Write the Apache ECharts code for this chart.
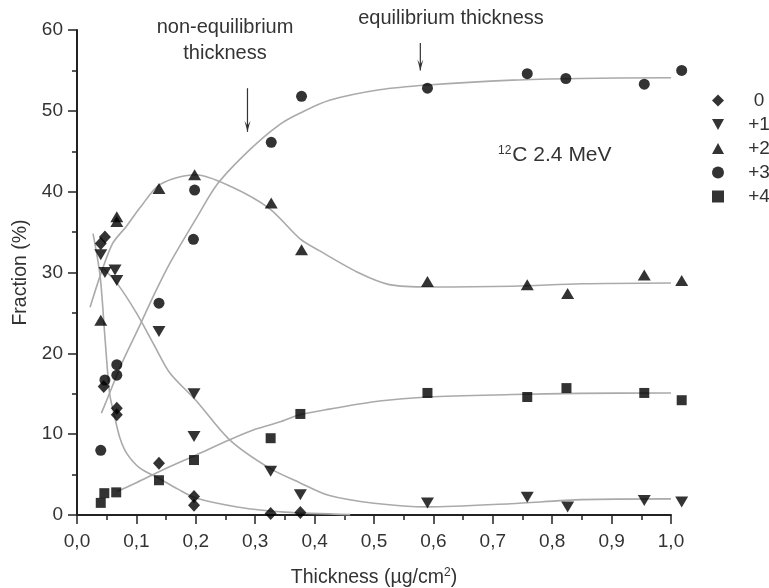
<!DOCTYPE html>
<html>
<head>
<meta charset="utf-8">
<title>Charge state fractions</title>
<script src="https://cdn.jsdelivr.net/npm/echarts@6/dist/echarts.min.js"></script>
<style>
  html, body { margin: 0; padding: 0; background: #fff; }
  #chart { width: 769px; height: 588px; }
</style>
</head>
<body>
<div id="chart"></div>
<script>
// Measured charge-state fractions (%) versus foil thickness (µg/cm²)
const state0 = [[0.040, 33.6], [0.047, 34.4], [0.045, 15.9], [0.067, 13.2], [0.067, 12.4],
  [0.138, 6.4], [0.197, 2.3], [0.197, 1.2], [0.326, 0.2], [0.376, 0.3]];
const state1 = [[0.040, 32.2], [0.047, 30.0], [0.064, 30.3], [0.067, 29.0], [0.138, 22.7],
  [0.197, 15.0], [0.197, 9.7], [0.326, 5.4], [0.376, 2.5], [0.590, 1.5], [0.758, 2.2],
  [0.826, 1.0], [0.955, 1.8], [1.018, 1.6]];
const state2 = [[0.040, 24.1], [0.067, 36.9], [0.067, 36.3], [0.138, 40.4], [0.198, 42.1],
  [0.327, 38.6], [0.378, 32.8], [0.590, 28.9], [0.758, 28.5], [0.826, 27.4], [0.955, 29.7],
  [1.018, 29.0]];
const state3 = [[0.040, 8.0], [0.047, 16.7], [0.067, 18.6], [0.067, 17.3], [0.138, 26.2],
  [0.196, 34.1], [0.198, 40.2], [0.327, 46.1], [0.378, 51.8], [0.590, 52.8], [0.758, 54.6],
  [0.823, 54.0], [0.955, 53.3], [1.018, 55.0]];
const state4 = [[0.040, 1.5], [0.046, 2.7], [0.066, 2.8], [0.138, 4.3], [0.197, 6.8],
  [0.326, 9.5], [0.376, 12.5], [0.590, 15.1], [0.758, 14.6], [0.824, 15.7], [0.955, 15.1],
  [1.018, 14.2]];

// Fitted curves for each charge state
const fit0 = [[0.027, 34.8], [0.039, 29.5], [0.047, 22.0], [0.055, 15.0], [0.062, 12.6],
  [0.072, 9.6], [0.084, 7.6], [0.106, 5.8], [0.136, 4.6], [0.17, 3.2], [0.2, 2.1],
  [0.27, 1.0], [0.35, 0.35], [0.46, 0.05]];
const fit1 = [[0.045, 30.5], [0.069, 28.5], [0.1, 25.0], [0.13, 21.0], [0.156, 17.6],
  [0.2, 14.2], [0.257, 9.3], [0.324, 5.8], [0.375, 4.0], [0.425, 2.4], [0.5, 1.45],
  [0.59, 1.0], [0.73, 1.4], [0.85, 1.9], [1.0, 2.0]];
const fit2 = [[0.022, 25.7], [0.04, 29.8], [0.06, 33.6], [0.083, 35.7], [0.106, 38.0],
  [0.14, 40.9], [0.2, 42.1], [0.26, 40.6], [0.324, 37.9], [0.375, 34.2], [0.408, 32.7],
  [0.476, 29.9], [0.526, 28.5], [0.593, 28.2], [0.733, 28.3], [0.85, 28.6], [1.0, 28.7]];
const fit3 = [[0.041, 12.6], [0.05, 14.2], [0.075, 18.7], [0.106, 23.5], [0.13, 27.3],
  [0.156, 31.1], [0.2, 36.6], [0.237, 41.0], [0.291, 45.2], [0.341, 48.3], [0.375, 49.7],
  [0.425, 51.3], [0.509, 52.6], [0.59, 53.2], [0.733, 53.8], [0.845, 54.0], [1.0, 54.1]];
const fit4 = [[0.067, 2.9], [0.1, 4.0], [0.145, 5.6], [0.2, 7.4], [0.257, 9.3], [0.3, 10.6],
  [0.341, 11.5], [0.375, 12.4], [0.425, 13.1], [0.509, 14.1], [0.59, 14.6], [0.733, 14.9],
  [0.845, 15.05], [1.0, 15.1]];

const stateNames = ['0', '+1', '+2', '+3', '+4'];

// Arrow annotations: x position, top and bottom of the shaft in data units
const arrowX = [0.287, 0.578];
const arrowTop = [52.8, 58.4];
const arrowBottom = [47.4, 55.0];

const FONT = 'Liberation Sans, Arial, sans-serif';
const TEXT = '#333';
const AXIS = '#222';
const FIT = '#aaaaaa';

const downTriangle = 'path://M0,0 L10,0 L5,9 Z';
const upTriangle = 'path://M5,0 L10,9 L0,9 Z';

function scatter(name, data, symbol, size) {
  return {
    name: name, type: 'scatter', data: data, symbol: symbol, symbolSize: size,
    itemStyle: { color: '#000' }, clip: false, z: 5
  };
}
function fitLine(name, data) {
  return {
    name: name, type: 'line', data: data, smooth: 0.3, symbol: 'none', clip: false,
    lineStyle: { color: FIT, width: 1.6 }, z: 2, silent: true
  };
}

const chart = echarts.init(document.getElementById('chart'), null, { renderer: 'canvas' });

chart.setOption({
  animation: false,
  backgroundColor: '#fff',
  grid: { left: 77, right: 98, top: 30, bottom: 73, outerBoundsMode: 'none', containLabel: false },
  xAxis: {
    type: 'value', min: 0, max: 1.0, interval: 0.1,
    name: 'Thickness (\u00b5g/cm{sup|2})',
    nameLocation: 'middle', nameGap: 52,
    nameTextStyle: {
      fontFamily: FONT, fontSize: 19.5, color: TEXT,
      rich: { sup: { fontFamily: FONT, fontSize: 12, color: TEXT, verticalAlign: 'top', padding: [0, 0, 9, 0] } }
    },
    axisLine: { onZero: false, lineStyle: { color: AXIS, width: 2 } },
    axisTick: { show: true, length: 9, lineStyle: { color: AXIS, width: 1.5 } },
    minorTick: { show: true, splitNumber: 2, length: 5, lineStyle: { color: AXIS, width: 1.5 } },
    splitLine: { show: false },
    axisLabel: {
      margin: 17, fontFamily: FONT, fontSize: 19, color: TEXT,
      formatter: v => v.toFixed(1).replace('.', ',')
    }
  },
  yAxis: {
    type: 'value', min: 0, max: 60, interval: 10,
    name: 'Fraction (%)', nameLocation: 'middle', nameGap: 46,
    nameTextStyle: { fontFamily: FONT, fontSize: 19.5, color: TEXT },
    axisLine: { show: true, lineStyle: { color: AXIS, width: 2 } },
    axisTick: { show: true, length: 9, lineStyle: { color: AXIS, width: 1.5 } },
    minorTick: { show: true, splitNumber: 2, length: 5, lineStyle: { color: AXIS, width: 1.5 } },
    splitLine: { show: false },
    axisLabel: { margin: 14, fontFamily: FONT, fontSize: 19, color: TEXT }
  },
  legend: {
    data: stateNames, orient: 'vertical', left: 707, top: 86,
    itemWidth: 12, itemHeight: 12, itemGap: 5,
    textStyle: {
      fontFamily: FONT, fontSize: 19, color: TEXT, lineHeight: 18,
      rich: { a: { width: 22, align: 'center', padding: [0, 0, 0, 19], fontFamily: FONT, fontSize: 19, color: TEXT } }
    },
    formatter: n => '{a|' + n + '}',
    selectedMode: false
  },
  series: [
    fitLine('fit 0', fit0), fitLine('fit +1', fit1), fitLine('fit +2', fit2),
    fitLine('fit +3', fit3), fitLine('fit +4', fit4),
    scatter(stateNames[0], state0, 'diamond', [12, 13]),
    scatter(stateNames[1], state1, downTriangle, [13, 11]),
    scatter(stateNames[2], state2, upTriangle, [13, 11]),
    scatter(stateNames[3], state3, 'circle', 11),
    scatter(stateNames[4], state4, 'rect', 10)
  ]
});

// Text and arrow annotations
const graphics = [
  {
    type: 'text', x: 225, y: 14, z: 10,
    style: { text: 'non-equilibrium\nthickness', font: '20px ' + FONT, fill: TEXT,
      textAlign: 'center', lineHeight: 26 }
  },
  {
    type: 'text', x: 451, y: 8, z: 10,
    style: { text: 'equilibrium thickness', font: '20px ' + FONT, fill: TEXT, textAlign: 'center' }
  },
  {
    type: 'text', x: 498, y: 145, z: 10,
    style: {
      text: '{s|12}{m|C 2.4 MeV}',
      rich: {
        s: { font: '12px ' + FONT, fill: TEXT, verticalAlign: 'top', padding: [0, 1, 9, 0] },
        m: { font: '21px ' + FONT, fill: TEXT }
      }
    }
  }
];
arrowX.forEach((x, i) => {
  const p0 = chart.convertToPixel({ gridIndex: 0 }, [x, arrowTop[i]]);
  const p1 = chart.convertToPixel({ gridIndex: 0 }, [x, arrowBottom[i]]);
  graphics.push({
    type: 'line', z: 10,
    shape: { x1: p0[0], y1: p0[1], x2: p1[0], y2: p1[1] },
    style: { stroke: '#333', lineWidth: 1.2 }
  });
  graphics.push({
    type: 'polygon', z: 10,
    shape: { points: [[p1[0] - 3, p1[1] - 11], [p1[0], p1[1]], [p1[0] + 3, p1[1] - 11], [p1[0], p1[1] - 6]] },
    style: { fill: '#333' }
  });
});
chart.setOption({ graphic: graphics });
</script>
</body>
</html>
